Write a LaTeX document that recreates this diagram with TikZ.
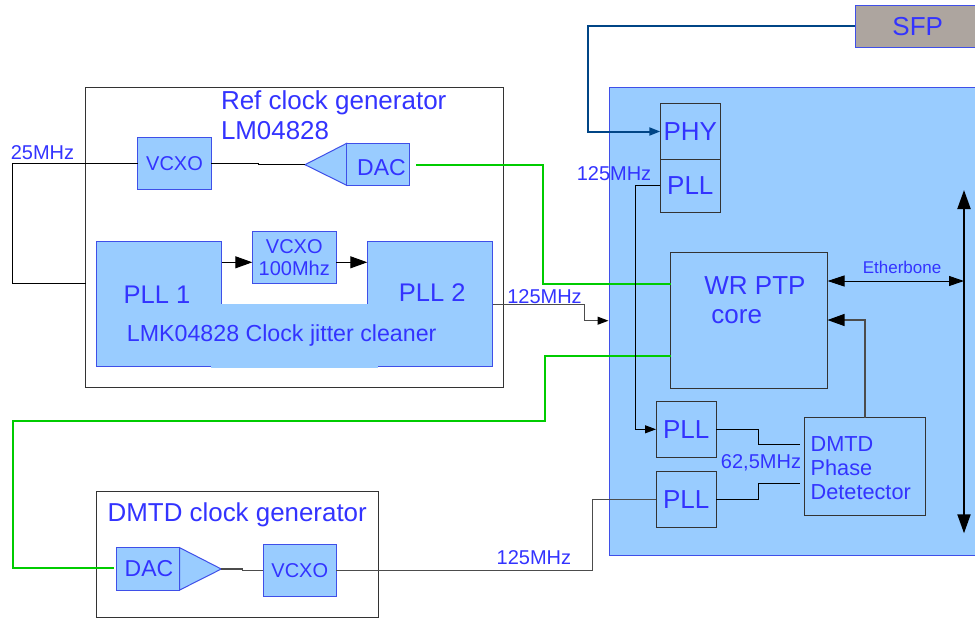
\documentclass[tikz,border=0pt]{standalone}
\usepackage{fontspec}
\setmainfont{Liberation Sans}
\usetikzlibrary{arrows.meta}
\definecolor{txtblue}{HTML}{3333FF}
\definecolor{fillblue}{HTML}{99CCFF}
\definecolor{sfpgray}{HTML}{ADA59F}
\definecolor{edgeblue}{HTML}{3F4FE8}
\definecolor{sfpline}{HTML}{004586}
\definecolor{greenline}{HTML}{00CC00}
\newcommand{\fsz}[1]{\fontsize{#1}{24}\selectfont}
\tikzset{
  x=1pt,y=-1pt,
  every node/.style={inner sep=0pt,outer sep=0pt,text=txtblue},
  sized/.style n args={2}{minimum width=#1,minimum height=#2},
  blk/.style={draw=edgeblue,fill=fillblue,line width=1pt},
  dblk/.style={draw=black!80,fill=fillblue,line width=1pt},
  frame/.style={draw=black!80,fill=white,line width=1pt},
  txt/.style={anchor=base,font=\fsz{#1}},
  txtl/.style={anchor=base west,font=\fsz{#1}},
  wire/.style={draw=black,line width=1pt},
  greywire/.style={draw=black!70,line width=1.1pt},
  greenwire/.style={draw=greenline,line width=2pt},
  bluewire/.style={draw=sfpline,line width=2pt},
  tipS/.style={-{Triangle[length=11pt,width=8pt]}},
  tipK/.style={-{Triangle[length=11pt,width=8pt,black]}},
  tipM/.style={-{Triangle[length=17pt,width=12pt,black]}},
  tipB/.style={{Triangle[length=17pt,width=11pt]}-{Triangle[length=15pt,width=10pt]}},
  tipBus/.style={{Triangle[length=19pt,width=13pt]}-{Triangle[length=19pt,width=13pt]}},
}
\begin{document}
\begin{tikzpicture}
\useasboundingbox (0,0) rectangle (975,619);
\clip (0,0) rectangle (975,619);
% containers
\node[blk,sized={370.7pt}{468pt}] (fpga) at (794.65,321) {};
\node[frame,sized={418pt}{300pt}] (ref) at (294.5,237.5) {};
\node[frame,sized={282pt}{126pt}] (dmtdgen) at (237.5,554.5) {};
\node[blk,fill=sfpgray,sized={125pt}{42pt},font=\fsz{26}] (sfp) at (917.7,26.3) {SFP};
% ref clock generator
\node[txtl=26] (reftitle) at (221,109) {Ref clock generator};
\node[txtl=25.9] (reftitleb) at (221,139) {LM04828};
\node[blk,sized={73.6pt}{52.3pt},font=\fsz{20}] (vcxoa) at (174.5,163.15) {VCXO};
\coordinate (tipa) at (305,164.7);
\draw[blk] (346.7,143.3) -- (tipa) -- (346.7,185.3) -- cycle;
\node[blk,sized={62.6pt}{42pt}] (daca) at (378,164.3) {};
\node[txt=23] (dacatext) at (381.5,175) {DAC};
% clock jitter cleaner
\node[blk,sized={125.7pt}{125pt}] (plla) at (158.85,304.2) {};
\node[blk,sized={125.4pt}{125pt}] (pllb) at (430,304.2) {};
\fill[fillblue] (211,304) rectangle (378,367.7);
\node[txt=25.5] (pllatext) at (157,303) {PLL 1};
\node[txt=25.5] (pllbtext) at (432.3,301.7) {PLL 2};
\node[txt=23.2] (lmk) at (281.7,341) {LMK04828 Clock jitter cleaner};
\node[blk,sized={84pt}{52pt},font=\fsz{20},align=center] (vcxob) at (294.3,257.3) {VCXO\\[-1.7pt]100Mhz};
% FPGA blocks
\node[dblk,sized={60pt}{55.6pt},font=\fsz{26}] (phy) at (690.3,131.5) {PHY};
\node[dblk,sized={60pt}{53.4pt},font=\fsz{26}] (pllphy) at (690.3,186) {PLL};
\node[dblk,sized={157pt}{136pt}] (wr) at (749,320.5) {};
\node[txt=26] (wrtext) at (755,294.7) {WR PTP};
\node[txt=26] (wrtextb) at (736.7,323.5) {core};
\node[dblk,sized={60.3pt}{56pt},font=\fsz{26}] (pllc) at (686.15,429.3) {PLL};
\node[dblk,sized={60.3pt}{56pt},font=\fsz{26}] (plld) at (686.15,499.3) {PLL};
\node[dblk,sized={121.7pt}{97.3pt},font=\fsz{21.7},align=left,text width=108.3pt,inner xsep=6.7pt] (pd) at (864.85,466.35) {\rule{0pt}{17.6pt}DMTD\\Phase\\Detetector};
% DMTD clock generator
\node[txtl=25.9] (dmtdtitle) at (107.7,521) {DMTD clock generator};
\coordinate (tipb) at (221.3,569);
\draw[blk] (179.7,547.7) -- (tipb) -- (179.7,590) -- cycle;
\node[blk,sized={63pt}{42.3pt}] (dacb) at (148.2,568.85) {};
\node[txt=23] (dacbtext) at (149,576.7) {DAC};
\node[blk,sized={73pt}{52.3pt},font=\fsz{20}] (vcxoc) at (299.8,570.15) {VCXO};
% named bends and free ends
\coordinate (busup) at (964,190);
\coordinate (busdn) at (964,533.3);
\coordinate (fpgain) at (608.5,320.7);
\coordinate (etherend) at (964,281);
\coordinate (pdina) at (800,444.7);
\coordinate (pdinb) at (800,483.3);
% connectors
\draw[wire] (vcxoa.east) -- (258,163.15) -- (258,164.7) -- (tipa);
\draw[wire] (vcxoa.west) -- (12.5,163.15) -- (12.5,283.3) -- (ref.west |- 0,283.3);
\draw[wire,tipM] (plla.east |- 0,262.3) -- (vcxob.west |- 0,262.3);
\draw[wire,tipM] (vcxob.east |- 0,262.3) -- (pllb.west |- 0,262.3);
\draw[greywire,tipK] (pllb.east) -- (584.7,304.2) -- (584.7,320.7) -- (fpgain);
\draw[greenwire] (416,164.5) -- (543,164.5) -- (543,283.5) -- (wr.west |- 0,283.5);
\draw[greenwire] (wr.west |- 0,356.3) -- (545,356.3) -- (545,421) -- (12.7,421) -- (12.7,568.3) -- (114.3,568.3);
\draw[bluewire,tipS] (sfp.west) -- (588.3,26.3) -- (588.3,131.5) -- (phy.west);
\draw[wire,tipS] (pllphy.west |- 0,185) -- (635.7,185) -- (635.7,429.3) -- (pllc.west);
\draw[wire] (pllc.east) -- (758,429.3) -- (758,444.7) -- (pdina);
\draw[wire] (plld.east) -- (758,499.3) -- (758,483.3) -- (pdinb);
\draw[greywire] (vcxoc.east) -- (592.8,570.15) -- (592.8,499.3) -- (plld.west);
\draw[greywire] (tipb) -- (242.3,569) -- (242.3,570.15) -- (vcxoc.west);
\draw[greywire,tipM] (pd.north -| 865,0) -- (865,320) -- (wr.east |- 0,320);
\draw[wire,tipB] (wr.east |- 0,281) -- (etherend);
\draw[draw=black,line width=2pt,tipBus] (busup) -- (busdn);
% free labels
\node[txt=20] (lbla) at (42.5,159.3) {25MHz};
\node[txt=20] (lblb) at (544.5,303) {125MHz};
\node[txt=20] (lblc) at (614,180) {125MHz};
\node[txt=20] (lbld) at (761,468.7) {62,5MHz};
\node[txtl=20] (lble) at (496.7,564.3) {125MHz};
\node[txt=17] (lblf) at (902,273) {Etherbone};
\end{tikzpicture}
\end{document}
